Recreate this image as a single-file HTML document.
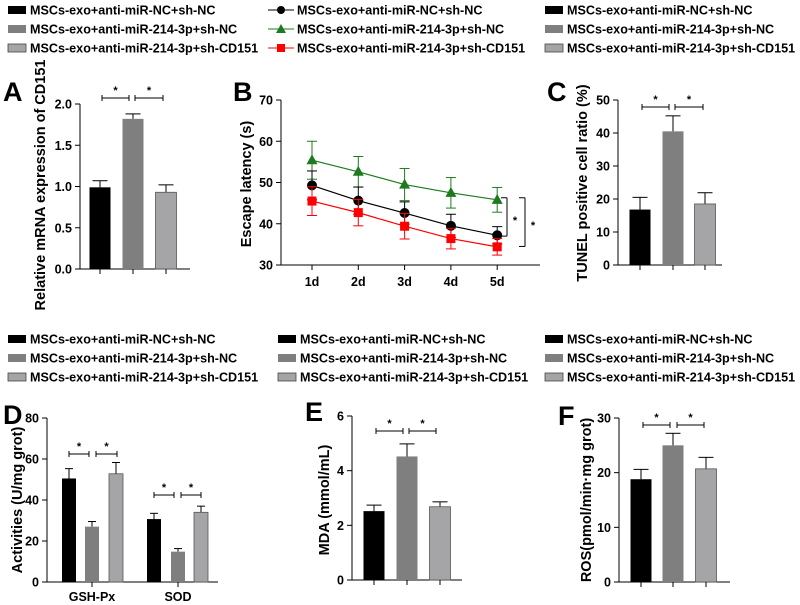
<!DOCTYPE html>
<html><head><meta charset="utf-8"><style>
html,body{margin:0;padding:0;background:#fff;}
svg{display:block;font-family:"Liberation Sans",Arial,sans-serif;font-weight:bold;}
</style></head><body>
<svg id="fig" width="800" height="605" viewBox="0 0 800 605" xmlns="http://www.w3.org/2000/svg"></svg>
<script>
const groupNames = ["MSCs-exo+anti-miR-NC+sh-NC","MSCs-exo+anti-miR-214-3p+sh-NC","MSCs-exo+anti-miR-214-3p+sh-CD151"];
// Panel A
const aValues = [0.99, 1.82, 0.93];
const aErrors = [0.08, 0.06, 0.09];
const aTicks = [0, 0.5, 1.0, 1.5, 2.0];
// Panel B
const bDays = ["1d","2d","3d","4d","5d"];
const bBlack = [49.3, 45.6, 42.6, 39.5, 37.2];
const bBlackErr = [3.5, 3.3, 2.7, 2.8, 2.1];
const bGreen = [55.4, 52.6, 49.5, 47.5, 45.8];
const bGreenErr = [4.6, 3.7, 3.9, 3.7, 3.0];
const bRed = [45.5, 42.7, 39.4, 36.4, 34.4];
const bRedErr = [3.5, 3.2, 3.1, 2.5, 2.0];
const bTicks = [30, 40, 50, 60, 70];
// Panel C
const cValues = [16.8, 40.5, 18.5];
const cErrors = [3.7, 4.7, 3.4];
const cTicks = [0, 10, 20, 30, 40, 50];
// Panel D
const dCategories = ["GSH-Px","SOD"];
const dValues = [[50.5, 27.0, 52.8],[30.7, 14.8, 34.0]];
const dErrors = [[4.8, 2.5, 5.5],[2.8, 1.5, 3.0]];
const dTicks = [0, 20, 40, 60, 80];
// Panel E
const eValues = [2.52, 4.52, 2.68];
const eErrors = [0.22, 0.46, 0.18];
const eTicks = [0, 2, 4, 6];
// Panel F
const fValues = [18.8, 25.0, 20.7];
const fErrors = [1.8, 2.2, 2.1];
const fTicks = [0, 10, 20, 30];

const NS = "http://www.w3.org/2000/svg";
const svg = document.getElementById("fig");
const fills = ["#000000","#7f7f7f","#a5a5a8"];
function el(tag, attrs, parent){
  const e = document.createElementNS(NS, tag);
  for (const k in attrs) e.setAttribute(k, attrs[k]);
  (parent||svg).appendChild(e);
  return e;
}
function txt(x,y,s,size,anchor,parent,rot){
  const t = el("text",{x:x,y:y,"font-size":size,"text-anchor":anchor||"start"},parent);
  if(rot) t.setAttribute("transform","rotate(-90 "+x+" "+y+")");
  t.textContent = s;
  return t;
}
function legendBars(x,y,name){
  const g = el("g",{});
  
  
  for(let i=0;i<3;i++){
    el("rect",{x:x,y:y+i*19-4,width:18,height:8,fill:fills[i],stroke:i==2?"#444":"none","stroke-width":0.8},g);
    const t = txt(x+22,y+i*19+4.5,groupNames[i],12.6,"start",g);
    
    
  }
}
function panelLetter(x,y,s){
  const t = txt(x,y,s,27,"start");
  
  
}
function yAxis(ax,ticks,fmt,name){
  const g = el("g",{stroke:"#000","stroke-width":1});
  
  
  el("line",{x1:ax.x0,x2:ax.x0,y1:ax.y(ticks[ticks.length-1]),y2:ax.y(ticks[0])},g);
  ticks.forEach(v=>{
    el("line",{x1:ax.x0-5,x2:ax.x0,y1:ax.y(v),y2:ax.y(v)},g);
    const t = txt(ax.x0-8,ax.y(v)+4.5,fmt(v),12.5,"end",g);
    t.setAttribute("stroke","none");
  });
  el("line",{x1:ax.x0,x2:ax.x1,y1:ax.y(ticks[0]),y2:ax.y(ticks[0])},g);
}
function yTitle(x,y,s,name){
  const t = txt(x,y,s,14.5,"middle",null,true);
  
  
}
function errBar(x,y1,y2,w,parent,color){
  el("line",{x1:x,x2:x,y1:y1,y2:y2,stroke:color||"#000","stroke-width":1},parent);
  el("line",{x1:x-w,x2:x+w,y1:y2,y2:y2,stroke:color||"#000","stroke-width":1},parent);
}
function sig(x1,x2,y){
  const g = el("g",{stroke:"#000","stroke-width":1});
  
  
  el("line",{x1:x1,x2:x2,y1:y,y2:y},g);
  el("line",{x1:x1,x2:x1,y1:y-3,y2:y+3},g);
  el("line",{x1:x2,x2:x2,y1:y-3,y2:y+3},g);
  const t = txt((x1+x2)/2,y-4,"*",11,"middle",g); t.setAttribute("stroke","none");
}
function bars(ax,centers,values,errors,w,prefix){
  const g = el("g",{});
  
  
  values.forEach((v,i)=>{
    const c = centers[i];
    errBar(c,ax.y(v),ax.y(v+errors[i]),w/2-3,g);
    const r = el("rect",{x:c-w/2,y:ax.y(v),width:w,height:ax.y(ax.min)-ax.y(v),fill:fills[i],stroke:i==2?"#555":"none","stroke-width":0.8},g);
    
    
  });
}
function mkAxis(x0,x1,yTop,yBot,min,max){
  return {x0:x0,x1:x1,min:min,y:v=>yBot-(v-min)/(max-min)*(yBot-yTop)};
}
function xTicks(ax,centers){
  centers.forEach(c=>el("line",{x1:c,x2:c,y1:ax.y(ax.min),y2:ax.y(ax.min)+5,stroke:"#000"}));
}

// ===== Panel A =====
legendBars(8,10,"legend-a");
panelLetter(3,101,"A");
const axA = mkAxis(80,190,104,269,0,2.0);
yAxis(axA,aTicks,v=>v.toFixed(1),"y-axis-a");
const cA=[100,133,166];
bars(axA,cA,aValues,aErrors,21,"a");
xTicks(axA,cA);
sig(102,129,98); sig(135,163,98);
yTitle(45,185,"Relative mRNA expression of CD151","y-axis-title-a");

// ===== Panel B =====
(function(){
  const lg = el("g",{});
  
  
  const cols=["#000","#1e7a1e","#ff0000"];
  for(let i=0;i<3;i++){
    const y=10+i*19;
    el("line",{x1:268,x2:294,y1:y,y2:y,stroke:cols[i],"stroke-width":1},lg);
    if(i==0) el("circle",{cx:281,cy:y,r:4,fill:"#000"},lg);
    if(i==1) el("polygon",{points:"281,"+(y-5)+" 276,"+(y+4)+" 286,"+(y+4),fill:cols[1]},lg);
    if(i==2) el("rect",{x:277,y:y-4,width:8,height:8,fill:cols[2]},lg);
    txt(297,y+4.5,groupNames[i],12.6,"start",lg);
  }
})();
panelLetter(233,101,"B");
const axB = mkAxis(281,540,100,265,30,70);
yAxis(axB,bTicks,v=>String(v),"y-axis-b");
const bx = i=>312+i*46.3;
bDays.forEach((d,i)=>{
  el("line",{x1:bx(i),x2:bx(i),y1:265,y2:270,stroke:"#000"});
  const t = txt(bx(i),286,d,12.5,"middle");
  
  
});
function series(vals,errs,color,marker,name){
  const g = el("g",{});
  
  
  vals.forEach((v,i)=>{
    errBar(bx(i),axB.y(v),axB.y(v+errs[i]),5,g,color);
    errBar(bx(i),axB.y(v),axB.y(v-errs[i]),5,g,color);
  });
  el("polyline",{points:vals.map((v,i)=>bx(i)+","+axB.y(v)).join(" "),fill:"none",stroke:color,"stroke-width":1.2},g);
  vals.forEach((v,i)=>{
    const x=bx(i),y=axB.y(v);
    let m;
    if(marker=="c") m=el("circle",{cx:x,cy:y,r:5,fill:color},g);
    if(marker=="t") m=el("polygon",{points:x+","+(y-6)+" "+(x-5.5)+","+(y+4)+" "+(x+5.5)+","+(y+4),fill:color},g);
    if(marker=="s") m=el("rect",{x:x-4.5,y:y-4.5,width:9,height:9,fill:color},g);
    
    
  });
}
series(bGreen,bGreenErr,"#1e7a1e","t","series-green");
series(bBlack,bBlackErr,"#000","c","series-black");
series(bRed,bRedErr,"#ff0000","s","series-red");
(function(){
  const g = el("g",{stroke:"#000","stroke-width":1});
  
  
  [[507,37.0,46.3],[525,34.5,46.3]].forEach(b=>{
    el("line",{x1:b[0],x2:b[0],y1:axB.y(b[1]),y2:axB.y(b[2])},g);
    el("line",{x1:b[0]-6,x2:b[0],y1:axB.y(b[1]),y2:axB.y(b[1])},g);
    el("line",{x1:b[0]-6,x2:b[0],y1:axB.y(b[2]),y2:axB.y(b[2])},g);
    const t=txt(b[0]+8,axB.y((b[1]+b[2])/2)+7,"*",11,"middle",g); t.setAttribute("stroke","none");
  });
})();
yTitle(251,184,"Escape latency (s)","y-axis-title-b");

// ===== Panel C =====
legendBars(545,10,"legend-c");
panelLetter(547,101,"C");
const axC = mkAxis(618,722,100,265,0,50);
yAxis(axC,cTicks,v=>String(v),"y-axis-c");
const cC=[640,673,705];
bars(axC,cC,cValues,cErrors,21,"c");
xTicks(axC,cC);
sig(642,669,107); sig(675,703,107);
yTitle(587,183,"TUNEL positive  cell ratio (%)","y-axis-title-c");

// ===== Panel D =====
legendBars(8,339,"legend-d");
panelLetter(3,424,"D");
const axD = mkAxis(47,218,418,582,0,80);
yAxis(axD,dTicks,v=>String(v),"y-axis-d");
const dCenters=[[69,92,116],[154,178,201]];
dCategories.forEach((c,k)=>{
  bars(axD,dCenters[k],dValues[k],dErrors[k],14,"d-"+c.toLowerCase());
  const m=dCenters[k][1];
  el("line",{x1:m,x2:m,y1:582,y2:587,stroke:"#000"});
  const t=txt(m,601,c,12.5,"middle");
  
  
});
sig(69,89,454); sig(96,117,454); sig(154,174,495); sig(181,201,495);
yTitle(22,500,"Activities (U/mg grot)","y-axis-title-d");

// ===== Panel E =====
legendBars(278,339,"legend-e");
panelLetter(305,421,"E");
const axE = mkAxis(352,462,416,580,0,6);
yAxis(axE,eTicks,v=>String(v),"y-axis-e");
const cE=[374,407,440];
bars(axE,cE,eValues,eErrors,21,"e");
xTicks(axE,cE);
sig(376,403,431); sig(409,436,431);
yTitle(329,500,"MDA (mmol/mL)","y-axis-title-e");

// ===== Panel F =====
legendBars(545,339,"legend-f");
panelLetter(558,425,"F");
const axF = mkAxis(619,730,418,582,0,30);
yAxis(axF,fTicks,v=>String(v),"y-axis-f");
const cF=[641,673,706];
bars(axF,cF,fValues,fErrors,21,"f");
xTicks(axF,cF);
sig(643,670,425); sig(677,704,425);
yTitle(591,500,"ROS(pmol/min·mg grot)","y-axis-title-f");
</script>
</body></html>
